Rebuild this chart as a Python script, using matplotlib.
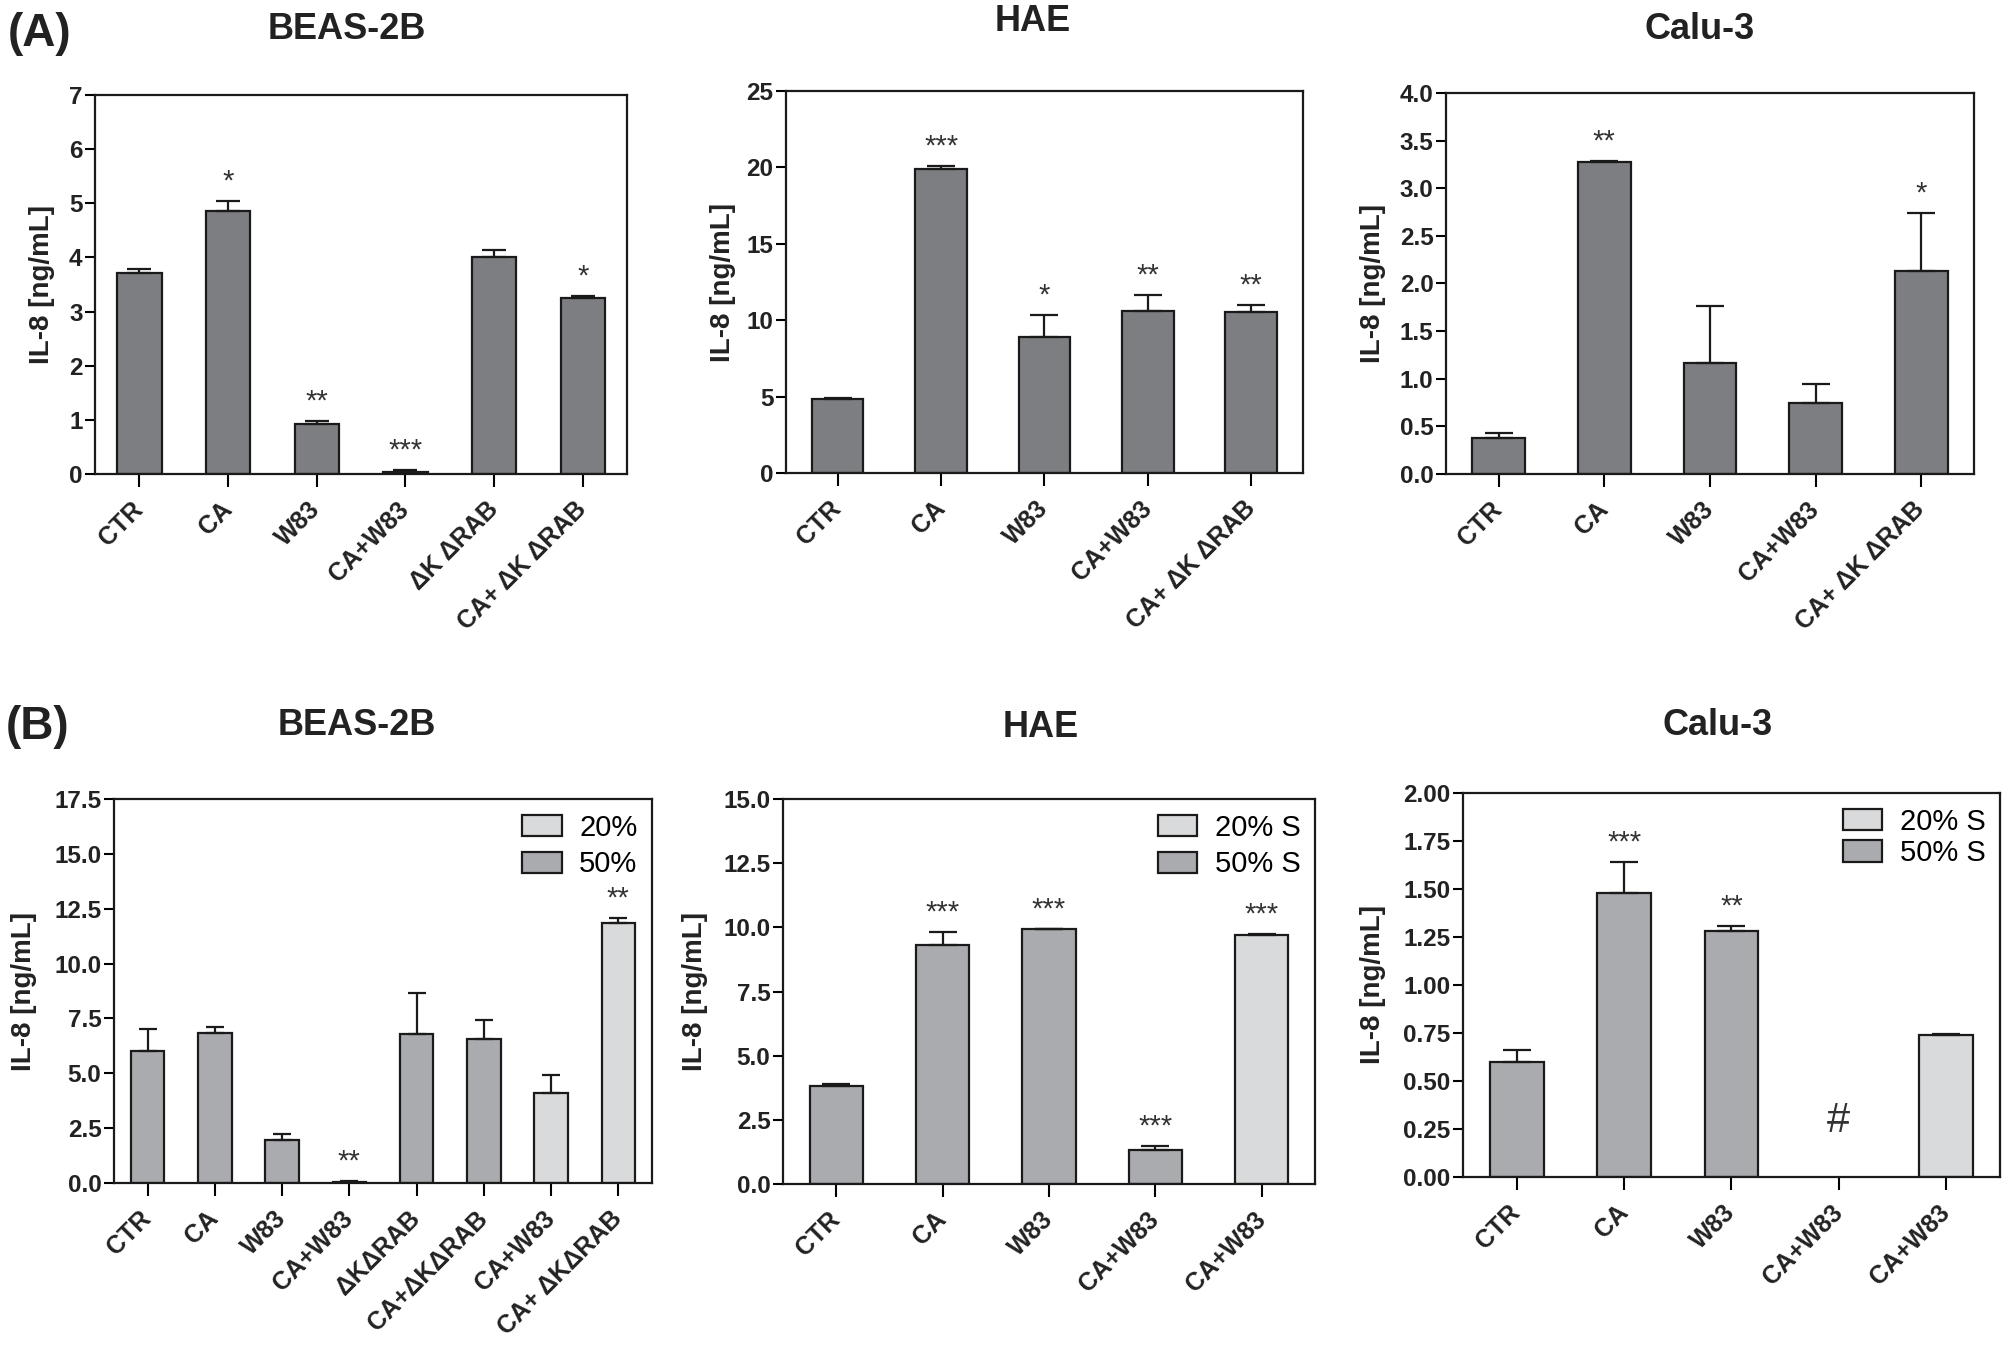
import matplotlib
matplotlib.use("Agg")
import matplotlib.pyplot as plt
from matplotlib.patches import Patch
from matplotlib.ticker import FormatStrFormatter, MultipleLocator

plt.rcParams["font.family"] = ["Liberation Sans", "DejaVu Sans"]

# ---- panel (A): IL-8 release, dark bars ----
a_beas_labels = ["CTR", "CA", "W83", "CA+W83", "ΔK ΔRAB", "CA+ ΔK ΔRAB"]
a_beas_mean = [3.72, 4.85, 0.93, 0.04, 4.00, 3.25]
a_beas_err = [0.07, 0.20, 0.05, 0.04, 0.13, 0.03]
a_beas_sig = ["", "*", "**", "***", "", "*"]

a_hae_labels = ["CTR", "CA", "W83", "CA+W83", "CA+ ΔK ΔRAB"]
a_hae_mean = [4.82, 19.90, 8.90, 10.60, 10.55]
a_hae_err = [0.06, 0.20, 1.42, 1.07, 0.43]
a_hae_sig = ["", "***", "*", "**", "**"]

a_calu_labels = ["CTR", "CA", "W83", "CA+W83", "CA+ ΔK ΔRAB"]
a_calu_mean = [0.38, 3.28, 1.16, 0.74, 2.13]
a_calu_err = [0.05, 0.01, 0.60, 0.20, 0.61]
a_calu_sig = ["", "**", "", "", "*"]

# ---- panel (B): serum 20% / 50% ----
b_beas_labels = ["CTR", "CA", "W83", "CA+W83", "ΔKΔRAB", "CA+ΔKΔRAB", "CA+W83", "CA+ ΔKΔRAB"]
b_beas_mean = [6.00, 6.85, 1.95, 0.06, 6.80, 6.55, 4.12, 11.86]
b_beas_err = [1.00, 0.27, 0.28, 0.04, 1.85, 0.88, 0.82, 0.24]
b_beas_serum = [50, 50, 50, 50, 50, 50, 20, 20]
b_beas_sig = ["", "", "", "**", "", "", "", "**"]

b_hae_labels = ["CTR", "CA", "W83", "CA+W83", "CA+W83"]
b_hae_mean = [3.82, 9.30, 9.92, 1.32, 9.72]
b_hae_err = [0.07, 0.52, 0.03, 0.15, 0.03]
b_hae_serum = [50, 50, 50, 50, 20]
b_hae_sig = ["", "***", "***", "***", "***"]

b_calu_labels = ["CTR", "CA", "W83", "CA+W83", "CA+W83"]
b_calu_mean = [0.60, 1.48, 1.28, 0.00, 0.742]
b_calu_err = [0.06, 0.16, 0.025, 0.00, 0.004]
b_calu_serum = [50, 50, 50, 50, 20]
b_calu_sig = ["", "***", "**", "#", ""]

DARK = "#7d7e82"
SERUM_COLORS = {50: "#aaabaf", 20: "#d9dadb"}
EDGE = "#1a1a1a"
TXT = "#222222"

FIG_W, FIG_H, DPI = 20.06, 13.53, 100
fig = plt.figure(figsize=(FIG_W, FIG_H), dpi=DPI)


def draw_panel(rect, labels, means, errs, colors, sig, ymax, step, decimals, label_off,
               legend=None, legend_spacing=0.3):
    ax = fig.add_axes(rect)
    n = len(labels)
    x = list(range(n))
    shown = [i for i in x if means[i] > 0]
    ax.bar(shown, [means[i] for i in shown], width=0.5, color=[colors[i] for i in shown],
           edgecolor=EDGE, linewidth=1.6, zorder=2)
    bar_px = rect[2] * FIG_W * DPI / n * 0.5
    ax.errorbar(shown, [means[i] for i in shown], yerr=[[0] * len(shown), [errs[i] for i in shown]],
                fmt="none", ecolor=EDGE, elinewidth=1.6,
                capsize=bar_px * 0.27 * 72 / DPI, capthick=1.6, zorder=3)
    for xi, m, e, s in zip(x, means, errs, sig):
        if not s:
            continue
        off = 40 if s == "#" else 14
        size = 30 if s == "#" else 21
        ax.annotate(s, xy=(xi, m + e), xytext=(0, off), textcoords="offset points",
                    ha="center", va="center", fontsize=size, color="#333333")
    ax.set_xlim(-0.5, n - 0.5)
    ax.set_ylim(0, ymax)
    ax.yaxis.set_major_locator(MultipleLocator(step))
    ax.yaxis.set_major_formatter(FormatStrFormatter(f"%.{decimals}f"))
    ax.set_xticks(x)
    ax.set_xticklabels(labels, rotation=45, ha="right", va="center", rotation_mode="anchor",
                       fontsize=18, fontweight="bold", color=TXT)
    for lab in ax.get_yticklabels():
        lab.set_fontweight("bold")
        lab.set_color(TXT)
    ax.tick_params(axis="y", direction="out", length=7, width=1.5, labelsize=17.5, pad=2)
    ax.tick_params(axis="x", direction="out", length=9, width=1.5, pad=14)
    for sp in ax.spines.values():
        sp.set_linewidth(1.6)
        sp.set_color(EDGE)
    ax.set_ylabel("IL-8 [ng/mL]", fontsize=20, fontweight="bold", color=TXT)
    ax.yaxis.set_label_coords(-label_off / (rect[2] * FIG_W * DPI), 0.5)
    if legend:
        handles = [Patch(facecolor=SERUM_COLORS[k], edgecolor=EDGE, linewidth=1.6, label=t)
                   for k, t in legend]
        ax.legend(handles=handles, loc="upper right", frameon=False, fontsize=21,
                  handlelength=1.35, handleheight=0.75, labelspacing=legend_spacing,
                  handletextpad=0.6, borderaxespad=0.1)
    return ax


draw_panel([0.0474, 0.6497, 0.2652, 0.2801], a_beas_labels, a_beas_mean, a_beas_err,
           [DARK] * 6, a_beas_sig, 7, 1, 0, 40)
draw_panel([0.3918, 0.6504, 0.2577, 0.2823], a_hae_labels, a_hae_mean, a_hae_err,
           [DARK] * 5, a_hae_sig, 25, 5, 0, 50)
draw_panel([0.7208, 0.6497, 0.2632, 0.2816], a_calu_labels, a_calu_mean, a_calu_err,
           [DARK] * 5, a_calu_sig, 4.0, 0.5, 1, 60)

draw_panel([0.0568, 0.1256, 0.2682, 0.2838], b_beas_labels, b_beas_mean, b_beas_err,
           [SERUM_COLORS[s] for s in b_beas_serum], b_beas_sig, 17.5, 2.5, 1, 77,
           legend=[(20, "20%"), (50, "50%")])
draw_panel([0.3903, 0.1249, 0.2652, 0.2845], b_hae_labels, b_hae_mean, b_hae_err,
           [SERUM_COLORS[s] for s in b_hae_serum], b_hae_sig, 15.0, 2.5, 1, 75,
           legend=[(20, "20% S"), (50, "50% S")])
draw_panel([0.7293, 0.1301, 0.2677, 0.2838], b_calu_labels, b_calu_mean, b_calu_err,
           [SERUM_COLORS[s] for s in b_calu_serum], b_calu_sig, 2.0, 0.25, 2, 77,
           legend=[(20, "20% S"), (50, "50% S")], legend_spacing=0.12)

title_kw = dict(fontsize=26, fontweight="bold", color=TXT, ha="center", va="center")
fig.text(0.173, 0.978, "BEAS-2B", **title_kw)
fig.text(0.515, 0.984, "HAE", **title_kw)
fig.text(0.847, 0.978, "Calu-3", **title_kw)
fig.text(0.178, 0.464, "BEAS-2B", **title_kw)
fig.text(0.519, 0.462, "HAE", **title_kw)
fig.text(0.856, 0.464, "Calu-3", **title_kw)

panel_kw = dict(fontsize=33, fontweight="bold", color=TXT, ha="left", va="center")
fig.text(0.004, 0.975, "(A)", **panel_kw)
fig.text(0.003, 0.463, "(B)", **panel_kw)

fig.savefig("out.png", dpi=DPI)
